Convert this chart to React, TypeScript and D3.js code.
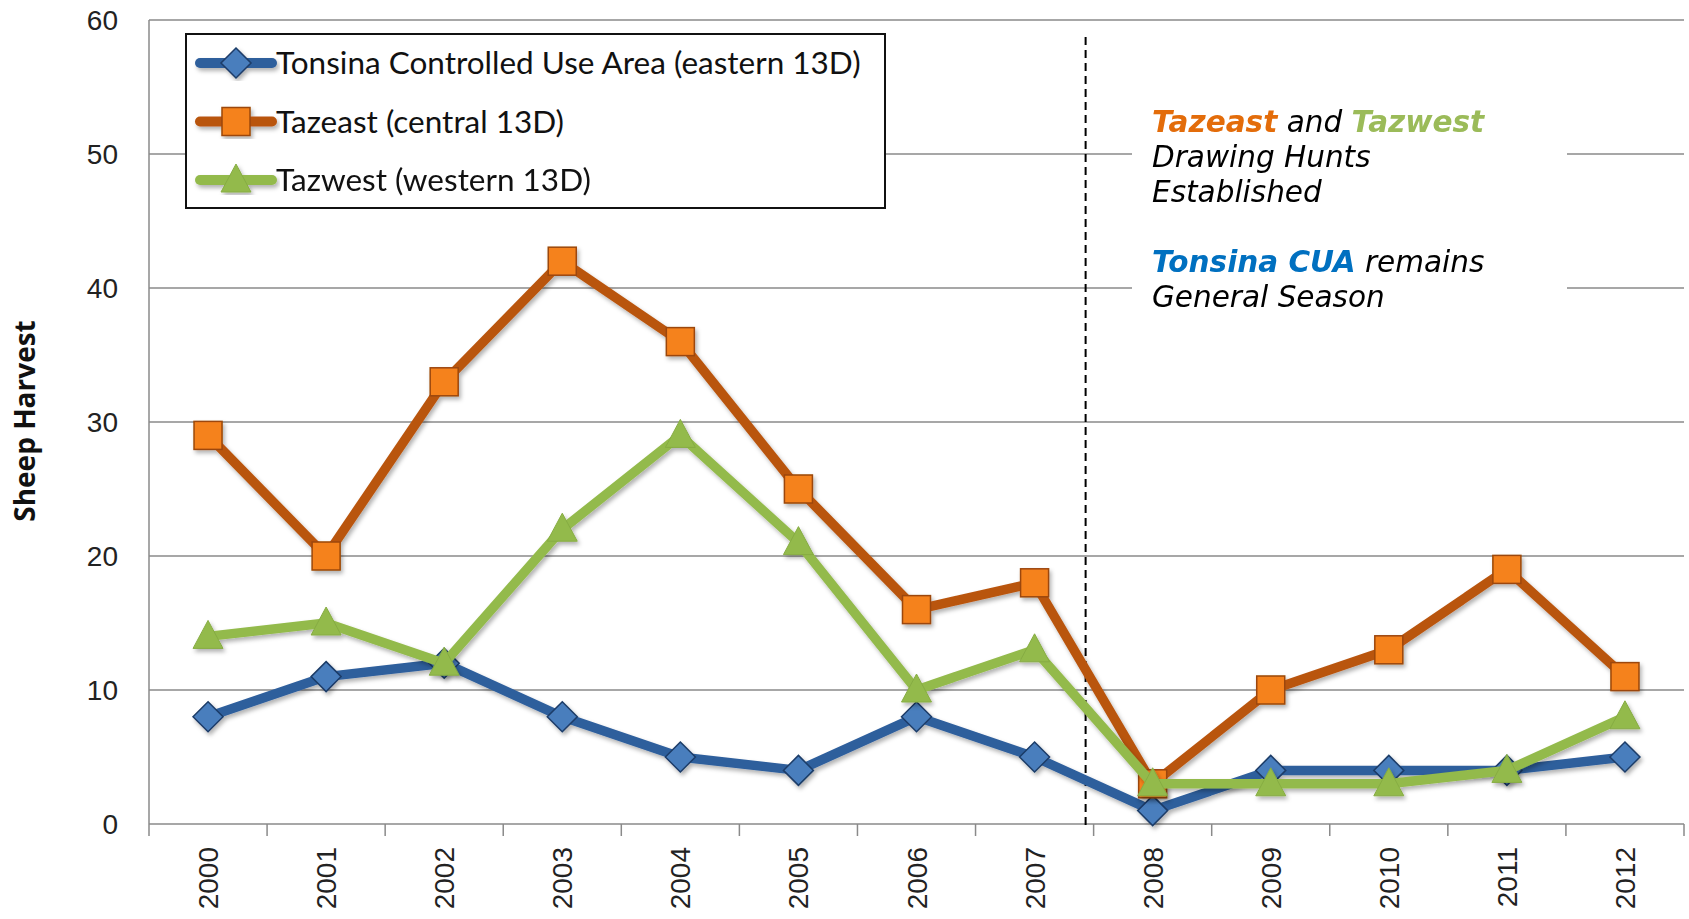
import React from 'react';
import * as d3 from 'd3';

const years = ['2000', '2001', '2002', '2003', '2004', '2005', '2006', '2007', '2008', '2009', '2010', '2011', '2012'];
const tonsina = [8, 11, 12, 8, 5, 4, 8, 5, 1, 4, 4, 4, 5];
const tazeast = [29, 20, 33, 42, 36, 25, 16, 18, 3, 10, 13, 19, 11];
const tazwest = [14, 15, 12, 22, 29, 21, 10, 13, 3, 3, 3, 4, 8];
const yTicks = [0, 10, 20, 30, 40, 50, 60];

const series = [
  { name: 'Tonsina Controlled Use Area (eastern 13D)', values: tonsina, line: '#2E5E9C', fill: '#4A7EBD', stroke: '#1C3C68', shape: 'diamond' },
  { name: 'Tazeast (central 13D)', values: tazeast, line: '#B9550F', fill: '#F5821F', stroke: '#9C4708', shape: 'square' },
  { name: 'Tazwest (western 13D)', values: tazwest, line: '#93BA4C', fill: '#93BA4C', stroke: '#86AC42', shape: 'triangle' },
];

const W = 1689;
const H = 919;
const left = 149;
const right = 1684;
const top = 20;
const bottom = 824;

const marker = (shape: string, fill: string, stroke: string) => {
  if (shape === 'diamond') return <path d="M0,-15L15,0L0,15L-15,0Z" fill={fill} stroke={stroke} strokeWidth={1.5} />;
  if (shape === 'square') return <rect x={-14} y={-14} width={28} height={28} fill={fill} stroke={stroke} strokeWidth={1.5} />;
  return <path d="M0,-16L15,12L-15,12Z" fill={fill} stroke={stroke} strokeWidth={1} />;
};

export default function App() {
  const x = d3.scalePoint<string>().domain(years).range([left, right]).padding(0.5);
  const band = d3.scaleBand<string>().domain(years).range([left, right]);
  const y = d3.scaleLinear().domain([0, 60]).range([bottom, top]);
  const line = d3.line<number>().x((_, i) => x(years[i]) as number).y((d) => y(d));

  const boundaries = years.map((yr) => band(yr) as number).concat([right]);
  const dashX = (band('2008') as number) - 8;

  return (
    <svg width={W} height={H} style={{ position: 'absolute', left: 0, top: 0, background: '#fff' }}>
      <defs>
        <filter id="shadow" x="-10%" y="-10%" width="120%" height="120%">
          <feDropShadow dx="2" dy="3" stdDeviation="2" floodColor="#000" floodOpacity="0.3" />
        </filter>
      </defs>

      {/* gridlines */}
      {yTicks.map((t) => (
        <line key={t} x1={left} x2={right} y1={y(t)} y2={y(t)} stroke="#8a8a8a" strokeWidth={1.5} />
      ))}
      <line x1={left} x2={left} y1={top} y2={bottom} stroke="#8a8a8a" strokeWidth={1.5} />
      {boundaries.map((b, i) => (
        <line key={i} x1={b} x2={b} y1={bottom} y2={bottom + 12} stroke="#8a8a8a" strokeWidth={1.5} />
      ))}

      {/* y tick labels */}
      {yTicks.map((t) => (
        <text key={t} x={118} y={y(t)} dy="0.36em" textAnchor="end" fontFamily="'Liberation Sans', Arial, sans-serif" fontSize={28} fill="#222">
          {t}
        </text>
      ))}

      {/* x tick labels */}
      {years.map((yr) => (
        <text key={yr} transform={`translate(${(x(yr) as number) + 10},847) rotate(-90)`} textAnchor="end"
          fontFamily="'Liberation Sans', Arial, sans-serif" fontSize={28} fill="#222">
          {yr}
        </text>
      ))}

      <text transform="translate(35,421) rotate(-90)" textAnchor="middle" fontFamily="'Open Sans', sans-serif" fontWeight="bold" fontSize={28} fill="#111">
        Sheep Harvest
      </text>

      {/* annotation background */}
      <rect x={1132} y={95} width={435} height={225} fill="#fff" />

      {/* dashed divider */}
      <line x1={dashX} x2={dashX} y1={37} y2={829} stroke="#000" strokeWidth={2} strokeDasharray="8,5" />

      {/* series */}
      {series.map((s) => (
        <g key={s.name} filter="url(#shadow)">
          <path d={line(s.values) || ''} fill="none" stroke={s.line} strokeWidth={9.5} strokeLinejoin="round" />
          {s.values.map((v, i) => (
            <g key={i} transform={`translate(${x(years[i])},${y(v)})`}>{marker(s.shape, s.fill, s.stroke)}</g>
          ))}
        </g>
      ))}

      {/* legend */}
      <rect x={186} y={34} width={699} height={174} fill="#fff" stroke="#111" strokeWidth={2} />
      {series.map((s, i) => {
        const cy = 63 + i * 58.5;
        return (
          <g key={s.name}>
            <g filter="url(#shadow)">
              <line x1={200} x2={272} y1={cy} y2={cy} stroke={s.line} strokeWidth={10} strokeLinecap="round" />
              <g transform={`translate(236,${cy})`}>{marker(s.shape, s.fill, s.stroke)}</g>
            </g>
            <text x={276} y={cy + 11} fontFamily="Lato, sans-serif" fontSize={31.5} fill="#111">{s.name}</text>
          </g>
        );
      })}

      {/* annotation */}
      <g fontFamily="Verdana, 'DejaVu Sans', sans-serif" fontStyle="italic" fontSize={29.5} fill="#000">
        <text x={1152} y={132}>
          <tspan fontWeight="bold" fill="#E36C0A">Tazeast</tspan>
          <tspan> and </tspan>
          <tspan fontWeight="bold" fill="#9BBB59">Tazwest</tspan>
        </text>
        <text x={1152} y={167}>Drawing Hunts</text>
        <text x={1152} y={202}>Established</text>
        <text x={1152} y={272}>
          <tspan fontWeight="bold" fill="#0070C0">Tonsina CUA</tspan>
          <tspan> remains</tspan>
        </text>
        <text x={1152} y={307}>General Season</text>
      </g>
    </svg>
  );
}
